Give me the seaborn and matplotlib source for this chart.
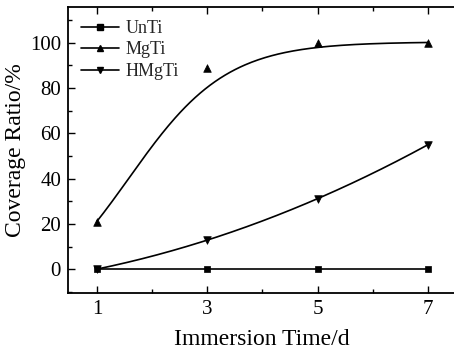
import numpy as np
import pandas as pd
import matplotlib
matplotlib.use("Agg")
import matplotlib.pyplot as plt
from matplotlib.lines import Line2D
from matplotlib.ticker import MultipleLocator
import seaborn as sns

# ---- data ----
days = [1, 3, 5, 7]
unti = [0, 0, 0, 0]
mgti = [21, 89, 100, 100]
hmgti = [0, 13, 31, 55]
series_names = ["UnTi", "MgTi", "HMgTi"]
x_ticks = [1, 3, 5, 7]
y_ticks = [0, 20, 40, 60, 80, 100]
# Boltzmann fit parameters of the MgTi curve (A1, A2, x0, dx)
mg_fit = [-20.0, 100.3, 1.578, 0.883]

sns.set_theme(style="ticks")
plt.rcParams["font.family"] = ["Liberation Serif", "DejaVu Serif"]
plt.rcParams["mathtext.fontset"] = "stix"

df = pd.DataFrame({
    "day": days * 3,
    "value": unti + mgti + hmgti,
    "series": [s for s in series_names for _ in days],
})

fig = plt.figure(figsize=(4.54, 3.53), dpi=100)
ax = fig.add_axes([68 / 454, 60 / 353, (455.6 - 68) / 454, 286 / 353])

# fitted curves
xs = np.linspace(min(days), max(days), 200)
A1, A2, x0, dx = mg_fit
mg_curve = A2 + (A1 - A2) / (1 + np.exp((xs - x0) / dx))
hm_coef = np.polyfit(days, hmgti, 2)
hm_curve = np.polyval(hm_coef, xs)

lw = 1.2
sns.lineplot(x=days, y=unti, ax=ax, color="black", lw=lw)
sns.lineplot(x=xs, y=mg_curve, ax=ax, color="black", lw=lw)
sns.lineplot(x=xs, y=hm_curve, ax=ax, color="black", lw=lw)

markers = {"UnTi": "s", "MgTi": "^", "HMgTi": "v"}
sizes = {"UnTi": 18, "MgTi": 30, "HMgTi": 30}
for name in series_names:
    sub = df[df["series"] == name]
    sns.scatterplot(data=sub, x="day", y="value", ax=ax, marker=markers[name],
                    s=sizes[name], color="black", edgecolor="black",
                    linewidth=0.5, zorder=5, legend=False)

ax.set_xlim(0.475, 7.5)
ax.set_ylim(-10.5, 115.7)
ax.set_xticks(x_ticks)
ax.set_yticks(y_ticks)
ax.xaxis.set_minor_locator(MultipleLocator(1))
ax.yaxis.set_minor_locator(MultipleLocator(10))
ax.tick_params(which="both", direction="in", top=True, right=False,
               labelsize=15, width=1.0, color="black", labelcolor="black")
ax.tick_params(which="major", length=5, pad=5)
ax.tick_params(which="minor", length=3)
for sp in ax.spines.values():
    sp.set_visible(True)
    sp.set_linewidth(1.3)
    sp.set_color("black")

ax.set_xlabel("Immersion Time/d", fontsize=17, color="black", labelpad=7)
ax.set_ylabel("Coverage Ratio/%", fontsize=17, color="black", labelpad=3)

handles = [Line2D([0], [0], color="black", lw=lw, marker=markers[n],
                  markersize=4.2 if n == "UnTi" else 5) for n in series_names]
leg = ax.legend(handles, series_names, loc="upper left", frameon=False,
                fontsize=13, handlelength=2.1, handletextpad=0.35,
                labelspacing=0.25, borderaxespad=0.0,
                bbox_to_anchor=(0.015, 0.98))

fig.savefig("out.png", dpi=100)
